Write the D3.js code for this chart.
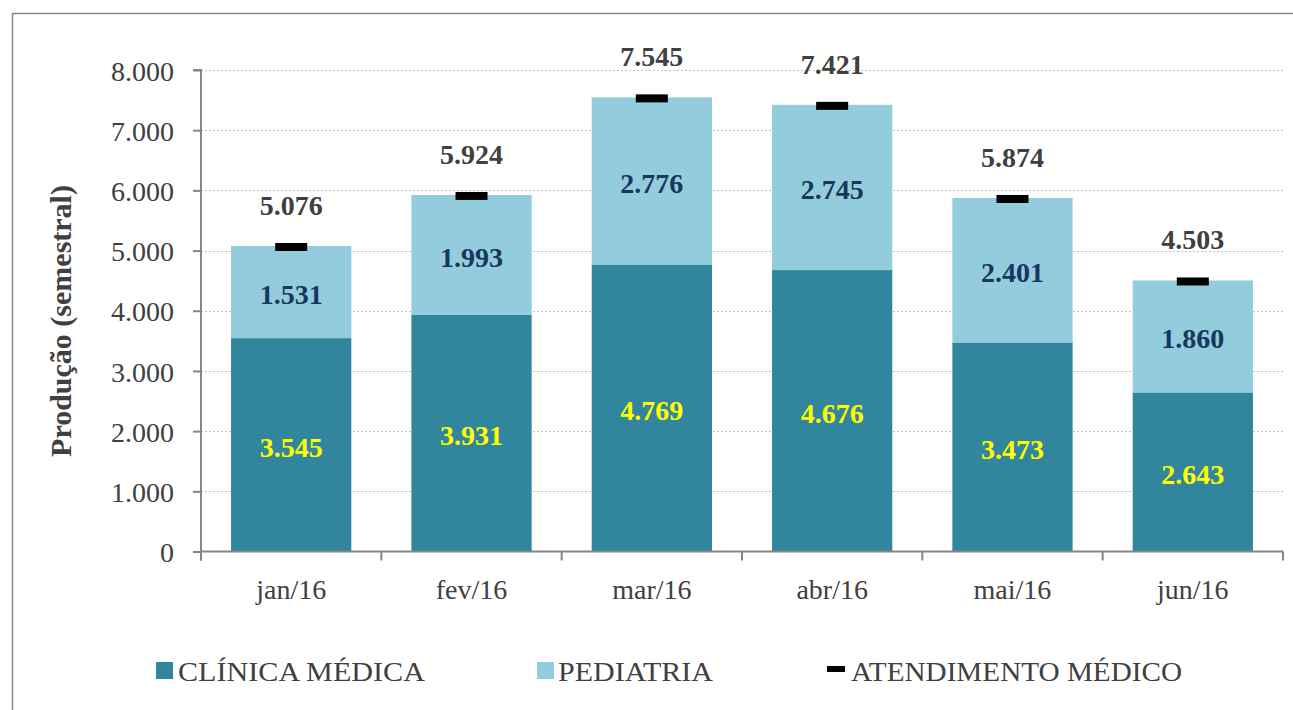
<!DOCTYPE html>
<html><head><meta charset="utf-8">
<script src="https://cdn.jsdelivr.net/npm/d3@7/dist/d3.min.js"></script>
<style>body{margin:0;background:#fff}svg{display:block}text{font-family:"Liberation Serif","Times New Roman",serif}</style>
</head><body><svg id="c" width="1293" height="710"></svg>
<script>
const categories = ["jan/16","fev/16","mar/16","abr/16","mai/16","jun/16"];
const clinicaMedica = [3545,3931,4769,4676,3473,2643];
const pediatria = [1531,1993,2776,2745,2401,1860];
const atendimentoMedico = [5076,5924,7545,7421,5874,4503];
const yTicks = [0,1000,2000,3000,4000,5000,6000,7000,8000];
const seriesNames = ["CLÍNICA MÉDICA","PEDIATRIA","ATENDIMENTO MÉDICO"];
const yTitle = "Produção (semestral)";

const fmt = v => d3.format(",")(v).replace(/,/g,".");
const svg = d3.select("#c");
const C1 = "#31859C", C2 = "#93CDDD", AX = "#868686", TX = "#404040";

svg.append("rect").attr("x",12.5).attr("y",13.5).attr("width",1320).attr("height",740)
  .attr("fill","none").attr("stroke",AX).attr("stroke-width",1.5);

const L = 201, R = 1283, T = 70, B = 551.5;
const x = d3.scaleBand().domain(categories).range([L,R]).paddingInner(0.333).paddingOuter(0.1667);
const y = d3.scaleLinear().domain([0,8000]).range([B,T]);

// gridlines
svg.append("g").selectAll("line").data(yTicks.filter(d=>d>0)).join("line")
  .attr("x1",L).attr("x2",R).attr("y1",d=>Math.round(y(d))+0.5).attr("y2",d=>Math.round(y(d))+0.5)
  .attr("stroke","#BFBFBF").attr("stroke-width",1.2).attr("stroke-dasharray","2,2");

// bars
const g = svg.append("g");
g.selectAll(".c1").data(categories).join("rect")
  .attr("x",d=>x(d)).attr("width",x.bandwidth())
  .attr("y",(d,i)=>y(clinicaMedica[i])).attr("height",(d,i)=>y(0)-y(clinicaMedica[i])).attr("fill",C1);
g.selectAll(".c2").data(categories).join("rect")
  .attr("x",d=>x(d)).attr("width",x.bandwidth())
  .attr("y",(d,i)=>y(clinicaMedica[i]+pediatria[i])).attr("height",(d,i)=>y(clinicaMedica[i])-y(clinicaMedica[i]+pediatria[i])).attr("fill",C2);

// axes
const yAxis = d3.axisLeft(y).tickValues(yTicks).tickSize(8).tickPadding(19).tickFormat(fmt);
const ya = svg.append("g").attr("transform",`translate(${L},0)`).call(yAxis);
ya.select(".domain").attr("stroke",AX).attr("stroke-width",2).attr("d",`M-8,${T}H0V${B+9}`);
ya.selectAll(".tick line").attr("stroke",AX).attr("stroke-width",2);
ya.selectAll(".tick text").attr("fill",TX).style("font-size","28px").attr("dy","0.36em");

const xa = svg.append("g").attr("transform",`translate(0,${B})`);
xa.append("line").attr("x1",L).attr("x2",R).attr("y1",0).attr("y2",0).attr("stroke",AX).attr("stroke-width",2);
const bounds = d3.range(categories.length+1).map(i=>L+i*(R-L)/categories.length);
xa.selectAll(".xt").data(bounds).join("line").attr("x1",d=>d).attr("x2",d=>d).attr("y1",0).attr("y2",9)
  .attr("stroke",AX).attr("stroke-width",2);
xa.selectAll(".xl").data(categories).join("text")
  .attr("x",d=>x(d)+x.bandwidth()/2).attr("y",47).attr("text-anchor","middle")
  .attr("fill",TX).style("font-size","28px").text(d=>d);

// value labels
g.selectAll(".l1").data(categories).join("text")
  .attr("x",d=>x(d)+x.bandwidth()/2).attr("y",(d,i)=>(y(0)+y(clinicaMedica[i]))/2+12)
  .attr("text-anchor","middle").attr("fill","#FFFF00").attr("font-weight","bold").style("font-size","28px")
  .text((d,i)=>fmt(clinicaMedica[i]));
g.selectAll(".l2").data(categories).join("text")
  .attr("x",d=>x(d)+x.bandwidth()/2).attr("y",(d,i)=>(y(clinicaMedica[i])+y(clinicaMedica[i]+pediatria[i]))/2+12)
  .attr("text-anchor","middle").attr("fill","#17375E").attr("font-weight","bold").style("font-size","28px")
  .text((d,i)=>fmt(pediatria[i]));

// atendimento markers
g.selectAll(".m").data(categories).join("rect")
  .attr("x",d=>x(d)+x.bandwidth()/2-16).attr("width",32)
  .attr("y",(d,i)=>y(atendimentoMedico[i])-3).attr("height",8).attr("fill","#000");
g.selectAll(".l3").data(categories).join("text")
  .attr("x",d=>x(d)+x.bandwidth()/2).attr("y",(d,i)=>y(atendimentoMedico[i])-31)
  .attr("text-anchor","middle").attr("fill",TX).attr("font-weight","bold").style("font-size","28px")
  .text((d,i)=>fmt(atendimentoMedico[i]));

// y title
svg.append("text").attr("transform","translate(71,321) rotate(-90)").attr("text-anchor","middle")
  .attr("fill",TX).attr("font-weight","bold").style("font-size","30px").text(yTitle);

// legend
const lg = svg.append("g");
lg.append("rect").attr("x",156).attr("y",662).attr("width",17).attr("height",17).attr("fill",C1);
lg.append("text").attr("x",178).attr("y",681).attr("fill",TX).style("font-size","28px")
  .attr("textLength",247).attr("lengthAdjust","spacingAndGlyphs").text(seriesNames[0]);
lg.append("rect").attr("x",537).attr("y",662).attr("width",17).attr("height",17).attr("fill",C2);
lg.append("text").attr("x",558).attr("y",681).attr("fill",TX).style("font-size","28px")
  .attr("textLength",155).attr("lengthAdjust","spacingAndGlyphs").text(seriesNames[1]);
lg.append("rect").attr("x",827).attr("y",666).attr("width",18).attr("height",6).attr("fill","#000");
lg.append("text").attr("x",851).attr("y",681).attr("fill",TX).style("font-size","28px")
  .attr("textLength",331).attr("lengthAdjust","spacingAndGlyphs").text(seriesNames[2]);
</script></body></html>
